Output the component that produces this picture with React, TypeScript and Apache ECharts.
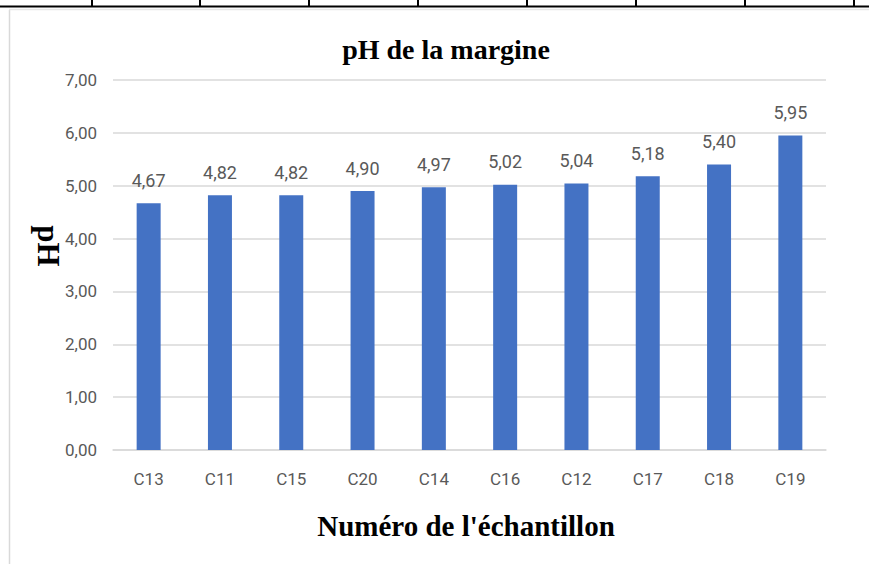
import React, { useEffect, useRef } from "react";
import * as echarts from "echarts";

const categories = ["C13", "C11", "C15", "C20", "C14", "C16", "C12", "C17", "C18", "C19"];
const phValues = [4.67, 4.82, 4.82, 4.9, 4.97, 5.02, 5.04, 5.18, 5.4, 5.95];
const tableTickXs = [92, 200, 309, 418, 527, 636, 745, 854];

const titleText = "pH de la margine";
const xName = "Numéro de l'échantillon";
const yName = "pH";

const labelFont = "'Liberation Sans Narrow', 'Roboto', sans-serif";
const serif = "'Liberation Serif', 'Times New Roman', serif";

const fmt = (v: number) => v.toFixed(2).replace(".", ",");

export default function App() {
  const ref = useRef<HTMLDivElement>(null);
  useEffect(() => {
    if (!ref.current) return;
    const chart = echarts.init(ref.current, undefined, { renderer: "svg" });
    const graphics: any[] = [
      { type: "line", shape: { x1: 0, y1: 6.5, x2: 869, y2: 6.5 }, style: { stroke: "#000", lineWidth: 2 } },
      { type: "line", shape: { x1: 9.5, y1: 10, x2: 9.5, y2: 564 }, style: { stroke: "#d9d9d9", lineWidth: 1.5 } },
      { type: "line", shape: { x1: 9, y1: 9.5, x2: 869, y2: 9.5 }, style: { stroke: "#e6e6e6", lineWidth: 1.5 } },
      ...tableTickXs.map((x) => ({
        type: "line",
        shape: { x1: x, y1: 0, x2: x, y2: 7 },
        style: { stroke: "#000", lineWidth: 2 },
      })),
      {
        type: "text",
        x: 48,
        y: 246,
        rotation: -Math.PI / 2,
        style: {
          text: yName,
          font: `bold 31px ${serif}`,
          fill: "#000",
          align: "center",
          verticalAlign: "middle",
        },
      },
    ];
    chart.setOption({
      animation: false,
      backgroundColor: "#fff",
      title: {
        text: titleText,
        left: 441,
        textAlign: "center",
        top: 30,
        textStyle: { fontFamily: serif, fontWeight: "bold", fontSize: 28, color: "#000" },
      },
      grid: { left: 113, right: 43, top: 80, bottom: 114, containLabel: false },
      xAxis: {
        type: "category",
        data: categories,
        name: xName,
        nameLocation: "middle",
        nameGap: 61,
        nameTextStyle: { fontFamily: serif, fontWeight: "bold", fontSize: 29, color: "#000", padding: [0, 7, 0, 0] },
        axisLine: { lineStyle: { color: "#d9d9d9", width: 1.5 } },
        axisTick: { show: false },
        axisLabel: { color: "#595959", fontFamily: labelFont, fontSize: 17, margin: 20 },
      },
      yAxis: {
        type: "value",
        min: 0,
        max: 7,
        interval: 1,
        axisLine: { show: false },
        axisTick: { show: false },
        splitLine: { lineStyle: { color: "#d9d9d9", width: 1.5 } },
        axisLabel: { color: "#595959", fontFamily: labelFont, fontSize: 17, margin: 16, formatter: (v: number) => fmt(v) },
      },
      series: [
        {
          type: "bar",
          data: phValues,
          barWidth: 24,
          itemStyle: { color: "#4472C4" },
          label: {
            show: true,
            position: "top",
            distance: 14,
            color: "#595959",
            fontFamily: labelFont,
            fontSize: 18,
            formatter: (p: any) => fmt(p.value),
          },
        },
      ],
      graphic: graphics,
    });
    return () => chart.dispose();
  }, []);
  return <div ref={ref} style={{ position: "fixed", left: 0, top: 0, width: 869, height: 564 }} />;
}
